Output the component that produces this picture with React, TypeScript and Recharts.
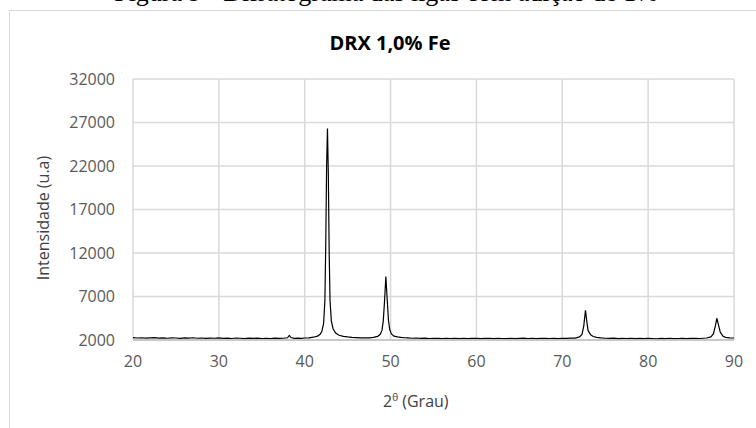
import { LineChart, Line, XAxis, YAxis, CartesianGrid } from 'recharts'

const angles = [
  20, 20.5, 21, 21.5, 22, 22.5, 23, 23.5, 24, 24.5, 25, 25.5, 26, 26.5, 27, 27.5, 28, 28.5, 29, 29.5,
  30, 30.5, 31, 31.5, 32, 32.5, 33, 33.5, 34, 34.5, 35, 35.5, 36, 36.5, 37, 37.5, 38, 38.2, 38.4, 38.8,
  39.2, 39.6, 40, 40.5, 41, 41.5, 41.8, 42, 42.2, 42.35, 42.45, 42.55, 42.65, 42.75, 42.85, 42.95, 43.1, 43.3,
  43.6, 44, 44.5, 45, 45.5, 46, 46.5, 47, 47.5, 48, 48.5, 48.8, 49, 49.15, 49.3, 49.45, 49.6, 49.75,
  49.9, 50.1, 50.4, 50.8, 51.2, 51.6, 52, 52.5, 53, 53.5, 54, 54.5, 55, 55.5, 56, 56.5, 57, 57.5,
  58, 58.5, 59, 59.5, 60, 60.5, 61, 61.5, 62, 62.5, 63, 63.5, 64, 64.5, 65, 65.5, 66, 66.5, 67, 67.5,
  68, 68.5, 69, 69.5, 70, 70.5, 71, 71.5, 72, 72.3, 72.5, 72.7, 72.85, 73, 73.3, 73.6, 74, 74.5, 75, 75.5,
  76, 76.5, 77, 77.5, 78, 78.5, 79, 79.5, 80, 80.5, 81, 81.5, 82, 82.5, 83, 83.5, 84, 84.5, 85, 85.5,
  86, 86.4, 86.8, 87.3, 87.6, 87.85, 88, 88.15, 88.4, 88.7, 89, 89.5, 90,
]
const intensity = [
  2280, 2230, 2260, 2210, 2250, 2270, 2220, 2240, 2200, 2250, 2230, 2190, 2240, 2210, 2260, 2200, 2230, 2180, 2220, 2200,
  2240, 2190, 2210, 2170, 2230, 2200, 2160, 2210, 2190, 2220, 2170, 2200, 2150, 2210, 2180, 2200, 2260, 2520, 2280, 2190,
  2210, 2180, 2230, 2250, 2320, 2450, 2650, 3000, 3900, 6500, 13000, 22000, 26300, 21000, 12000, 6500, 4200, 3300,
  2800, 2550, 2420, 2350, 2300, 2270, 2240, 2260, 2250, 2300, 2420, 2650, 3100, 4200, 6500, 9300, 6800, 4300,
  3200, 2700, 2450, 2350, 2300, 2260, 2240, 2200, 2230, 2190, 2210, 2170, 2200, 2180, 2150, 2200, 2170, 2190,
  2160, 2200, 2150, 2180, 2190, 2150, 2180, 2200, 2160, 2190, 2170, 2150, 2200, 2160, 2180, 2210, 2170, 2190, 2150, 2180,
  2200, 2170, 2190, 2160, 2200, 2180, 2210, 2220, 2350, 2650, 3600, 5400, 4200, 3100, 2600, 2400, 2300, 2240, 2200, 2180,
  2210, 2160, 2190, 2170, 2200, 2150, 2180, 2160, 2190, 2170, 2140, 2180, 2160, 2200, 2150, 2170, 2190, 2160, 2180, 2200,
  2170, 2200, 2230, 2350, 2700, 3700, 4500, 3900, 2900, 2450, 2300, 2250, 2230,
]
const xTicks = [20, 30, 40, 50, 60, 70, 80, 90]
const yTicks = [2000, 7000, 12000, 17000, 22000, 27000, 32000]

const data = angles.map((a, i) => ({ theta: a, value: intensity[i] }))

const font = '"Open Sans", Lato, sans-serif'
const tickStyle = { fill: '#595959', fontSize: 16, fontFamily: font }

export default function App() {
  return (
    <div style={{ position: 'absolute', left: 0, top: 0, width: 756, height: 428, background: '#fff', overflow: 'hidden' }}>
      <div
        style={{
          position: 'absolute', left: 0, width: 772, top: -22, textAlign: 'center',
          fontFamily: '"Liberation Serif", "Times New Roman", serif', fontSize: 26, lineHeight: '30px', color: '#000',
          whiteSpace: 'nowrap',
        }}
      >
        Figura 9 - Difratograma das ligas com adição de 1%
      </div>
      <div style={{ position: 'absolute', left: 9, top: 10, width: 800, height: 500, border: '1.5px solid #d9d9d9' }} />
      <div
        style={{
          position: 'absolute', left: 0, width: 780, top: 29, textAlign: 'center',
          fontFamily: font, fontWeight: 700, fontSize: 20, color: '#000',
        }}
      >
        DRX 1,0% Fe
      </div>
      <LineChart width={756} height={428} data={data} margin={{ top: 79, right: 22, bottom: 58, left: 73 }} style={{ position: 'absolute', left: 0, top: 0 }}>
        <CartesianGrid stroke="#d9d9d9" strokeWidth={1.5} />
        <XAxis
          dataKey="theta"
          type="number"
          domain={[20, 90]}
          ticks={xTicks}
          tick={tickStyle}
          tickLine={false}
          tickMargin={10}
          axisLine={{ stroke: '#bfbfbf', strokeWidth: 1.5 }}
          height={30}
        />
        <YAxis
          type="number"
          domain={[2000, 32000]}
          ticks={yTicks}
          tick={tickStyle}
          tickLine={false}
          tickMargin={12}
          axisLine={false}
          width={60}
        />
        <Line type="linear" dataKey="value" stroke="#000" strokeWidth={1.2} dot={false} isAnimationActive={false} />
      </LineChart>
      <div style={{ position: 'absolute', left: 383, top: 390, fontFamily: font, fontSize: 16, color: '#404040', whiteSpace: 'nowrap' }}>
        2<sup style={{ fontSize: 10 }}>θ</sup> (Grau)
      </div>
      <div
        style={{
          position: 'absolute', left: 43, top: 218, transform: 'translate(-50%, -50%) rotate(-90deg)',
          fontFamily: font, fontSize: 16, color: '#404040', whiteSpace: 'nowrap',
        }}
      >
        Intensidade (u.a)
      </div>
    </div>
  )
}
